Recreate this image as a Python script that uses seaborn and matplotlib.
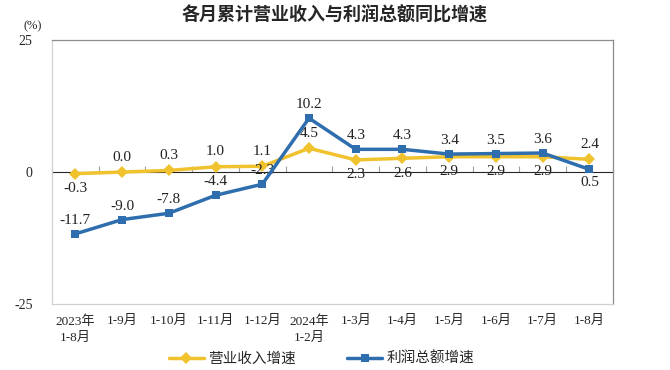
import pandas as pd
import matplotlib
matplotlib.use('Agg')
import matplotlib.pyplot as plt
import seaborn as sns

# data
months = ['2023年\n1-8月', '1-9月', '1-10月', '1-11月', '1-12月', '2024年\n1-2月',
          '1-3月', '1-4月', '1-5月', '1-6月', '1-7月', '1-8月']
revenue = [-0.3, 0.0, 0.3, 1.0, 1.1, 4.5, 2.3, 2.6, 2.9, 2.9, 2.9, 2.4]
profit = [-11.7, -9.0, -7.8, -4.4, -2.3, 10.2, 4.3, 4.3, 3.4, 3.5, 3.6, 0.5]
# label above (1) or below (-1) the point
revenue_pos = [-1, 1, 1, 1, 1, 1, -1, -1, -1, -1, -1, 1]
profit_pos = [1, 1, 1, 1, 1, 1, 1, 1, 1, 1, 1, -1]
yticks = [-25, 0, 25]

sns.set_style('white')
plt.rcParams['font.family'] = ['Liberation Serif', 'Noto Sans CJK SC']

YELLOW = '#F0C22E'
BLUE = '#2F6EAE'

df = pd.DataFrame({'pos': range(len(months)), 'revenue': revenue, 'profit': profit})

fig = plt.figure(figsize=(6.7, 3.7), dpi=100)
ax = fig.add_axes([0.0776, 0.178, 0.837, 0.714])

sns.lineplot(data=df, x='pos', y='revenue', ax=ax, color=YELLOW, lw=2.5,
             marker='D', markersize=6, markeredgewidth=0, label='营业收入增速', zorder=3)
sns.lineplot(data=df, x='pos', y='profit', ax=ax, color=BLUE, lw=2.5,
             marker='s', markersize=6, markeredgewidth=0, label='利润总额增速', zorder=4)

ax.set_xlim(-0.5, len(months) - 0.5)
ax.set_ylim(-25, 25)
ax.set_yticks(yticks)
ax.set_yticklabels([str(t) for t in yticks], fontsize=10)
ax.set_xticks(range(len(months)))
ax.set_xticklabels(months, fontsize=9.5, linespacing=1.45)
ax.tick_params(axis='both', length=0, pad=8)
ax.tick_params(axis='y', pad=14)
ax.set_xlabel('')
ax.set_ylabel('')

for side in ['top', 'right']:
    ax.spines[side].set_color('#8C8C8C')
    ax.spines[side].set_linewidth(0.9)
for side in ['left', 'bottom']:
    ax.spines[side].set_color('#D0D0D0')
    ax.spines[side].set_linewidth(0.9)

# zero line with category boundary ticks
zero_axis = ax.secondary_xaxis(0.5)
zero_axis.set_xticks([i - 0.5 for i in range(len(months) + 1)])
zero_axis.set_xticklabels([])
zero_axis.tick_params(length=4, width=0.8, color='#A0A0A0', direction='out')
zero_axis.spines['bottom'].set_color('#A0A0A0')
zero_axis.spines['bottom'].set_linewidth(0.9)

for i, (v, p) in enumerate(zip(revenue, revenue_pos)):
    ax.annotate(f'{v:.1f}', (i, v), xytext=(0, 6 * p), textcoords='offset points',
                ha='center', va='bottom' if p > 0 else 'top', fontsize=11, color='#222222')
for i, (v, p) in enumerate(zip(profit, profit_pos)):
    ax.annotate(f'{v:.1f}', (i, v), xytext=(0, 5 * p), textcoords='offset points',
                ha='center', va='bottom' if p > 0 else 'top', fontsize=11, color='#222222')

ax.text(-0.035, 1.03, '(%)', transform=ax.transAxes, ha='center', va='bottom', fontsize=9)

fig.suptitle('各月累计营业收入与利润总额同比增速', x=0.5, y=0.985, fontsize=13,
             fontweight='bold', family='Noto Sans CJK SC')

ax.get_legend().remove()
handles, labels = ax.get_legend_handles_labels()
fig.legend(handles, labels, loc='lower center', bbox_to_anchor=(0.48, -0.025), ncol=2,
           frameon=False, handlelength=2.4, columnspacing=3.5,
           handletextpad=0.3, prop={'family': 'Noto Sans CJK SC', 'size': 10.5})

fig.savefig('out.png', dpi=100)
